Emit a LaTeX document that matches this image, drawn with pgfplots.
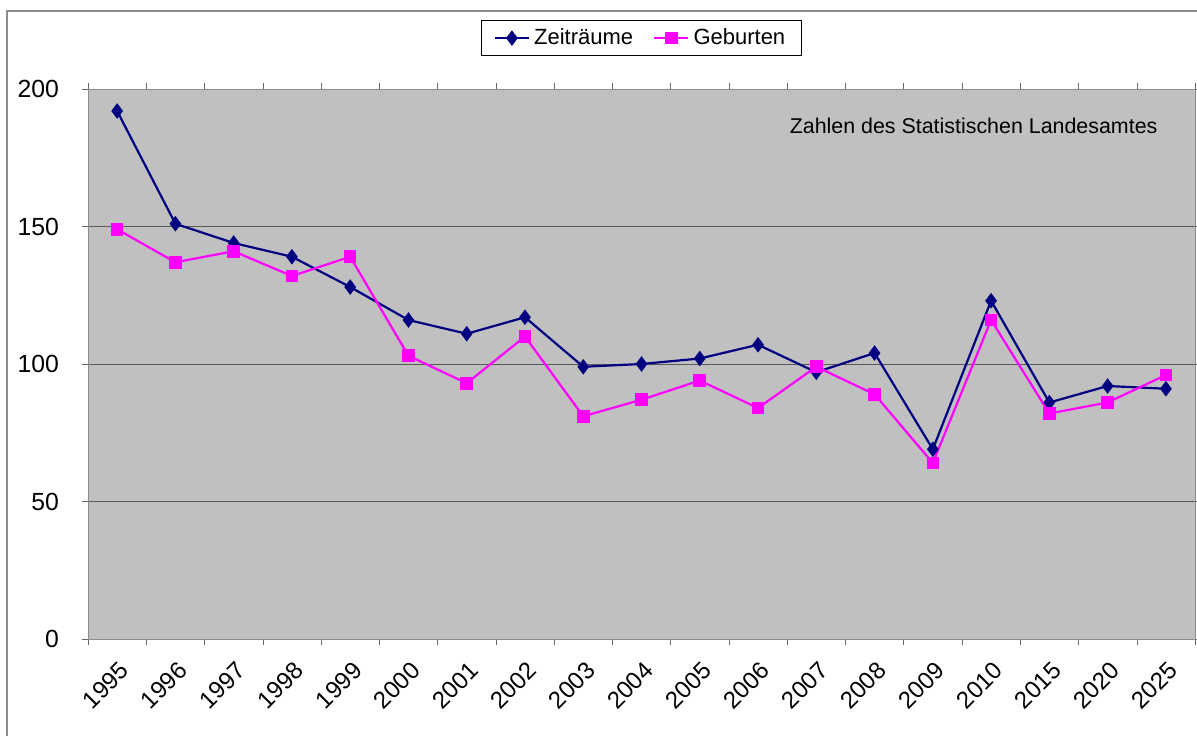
\documentclass[border=0pt]{standalone}
\usepackage{pgfplots}
\pgfplotsset{compat=1.18}
\usepackage{fontspec}
\setmainfont{Liberation Sans}
\definecolor{zeit}{HTML}{000080}
\definecolor{geb}{HTML}{FF00FF}
\definecolor{plotbg}{HTML}{C0C0C0}
\definecolor{gridc}{HTML}{5A5A5A}
\definecolor{frame}{HTML}{8C8C8C}
\begin{document}
\begin{tikzpicture}
\path[use as bounding box] (0pt,0pt) rectangle (598.5pt,368pt);
\draw[frame,line width=0.8pt] (3.5pt,0pt) -- (3.5pt,362.5pt) -- (598.5pt,362.5pt);
\begin{axis}[
  at={(44pt,48.5pt)}, anchor=south west,
  scale only axis, width=553.5pt, height=275pt,
  xmin=-0.5, xmax=18.5, ymin=0, ymax=200,
  axis background/.style={fill=plotbg},
  axis line style={frame},
  xtick={0,...,18},
  xticklabels={1995,1996,1997,1998,1999,2000,2001,2002,2003,2004,2005,2006,2007,2008,2009,2010,2015,2020,2025},
  major x tick style={draw=none},
  minor xtick={-0.5,0.5,...,18.5},
  minor tick length=3pt,
  minor x tick style={black!60},
  x tick label style={rotate=45, anchor=north east, font=\fontsize{12}{14}\selectfont, xshift=-1.5pt, yshift=-2.5pt},
  ytick={0,50,100,150,200},
  y tick label style={font=\fontsize{12.4}{14}\selectfont, xshift=-8pt},
  tick align=outside, major tick length=3pt,
  y tick style={black!60},
  ymajorgrids, grid style={gridc, line width=0.5pt},
  /pgf/number format/assume math mode=true,
  legend style={at={(axis description cs:0.5,1)}, anchor=south, yshift=16.5pt,
    draw=black, fill=white, font=\fontsize{11}{13}\selectfont,
    legend columns=2, /tikz/every even column/.append style={column sep=8pt},
    inner xsep=6pt, inner ysep=2pt},
  legend cell align=left,
  legend image post style={sharp plot},
  clip=false,
]
\addplot[zeit, line width=1.1pt, mark=diamond*, mark size=3pt, mark options={solid}] coordinates {
(0,192) (1,151) (2,144) (3,139) (4,128) (5,116) (6,111) (7,117) (8,99) (9,100)
(10,102) (11,107) (12,97) (13,104) (14,69) (15,123) (16,86) (17,92) (18,91)};
\addlegendentry{Zeiträume}
\addplot[geb, line width=1.1pt, mark=square*, mark size=2.6pt] coordinates {
(0,149) (1,137) (2,141) (3,132) (4,139) (5,103) (6,93) (7,110) (8,81) (9,87)
(10,94) (11,84) (12,99) (13,89) (14,64) (15,116) (16,82) (17,86) (18,96)};
\addlegendentry{Geburten}
\node[font=\fontsize{10.7}{12}\selectfont] at (axis description cs:0.80,0.933) {Zahlen des Statistischen Landesamtes};
\end{axis}
\end{tikzpicture}
\end{document}
